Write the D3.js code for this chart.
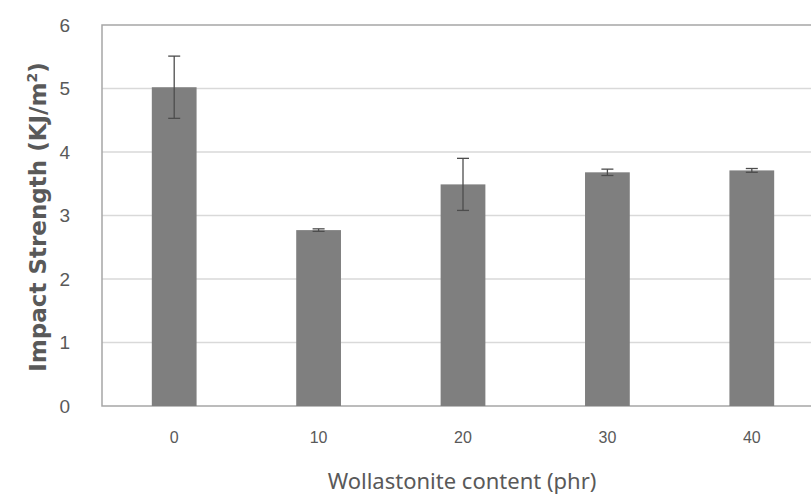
<!DOCTYPE html>
<html>
<head>
<meta charset="utf-8">
<script src="https://cdn.jsdelivr.net/npm/d3@7"></script>
<style>
  body { margin: 0; background: #fff; }
  svg { display: block; font-family: 'Noto Sans', 'DejaVu Sans', sans-serif; }
</style>
</head>
<body>
<script>
// data
const contents = ['0', '10', '20', '30', '40']
const strength = [5.02, 2.77, 3.49, 3.68, 3.71]
const errors = [0.49, 0.02, 0.41, 0.05, 0.03]
const yTicks = [0, 1, 2, 3, 4, 5, 6]

const w = 811
const h = 496
// plot area (right edge runs off the picture, as in the original)
const pLeft = 102, pRight = 824, pTop = 25, pBottom = 406

const svg = d3.select('body')
    .append('svg')
    .attr('width', w)
    .attr('height', h)

const x = d3.scaleBand()
    .domain(contents)
    .range([pLeft, pRight])
    .paddingInner(0.69)
    .paddingOuter(0.345)

const y = d3.scaleLinear()
    .domain([0, 6])
    .range([pBottom, pTop])

// gridlines
svg.append('g')
    .selectAll('line')
    .data(yTicks.filter(t => t > 0 && t < 6))
    .enter()
    .append('line')
    .attr('x1', pLeft)
    .attr('x2', pRight)
    .attr('y1', d => y(d))
    .attr('y2', d => y(d))
    .attr('stroke', '#d9d9d9')
    .attr('stroke-width', 1.5)

// plot border
svg.append('rect')
    .attr('x', pLeft)
    .attr('y', pTop)
    .attr('width', pRight - pLeft)
    .attr('height', pBottom - pTop)
    .attr('fill', 'none')
    .attr('stroke', '#a6a6a6')
    .attr('stroke-width', 1.5)

// bars
svg.append('g')
    .selectAll('rect')
    .data(contents)
    .enter()
    .append('rect')
    .attr('x', d => x(d))
    .attr('y', (d, i) => y(strength[i]))
    .attr('width', x.bandwidth())
    .attr('height', (d, i) => y(0) - y(strength[i]))
    .attr('fill', '#7f7f7f')

// error bars
const err = svg.append('g')
    .attr('stroke', '#4d4d4d')
    .attr('stroke-width', 1.3)
contents.forEach((c, i) => {
    const cx = x(c) + x.bandwidth() / 2
    const hi = y(strength[i] + errors[i])
    const lo = y(strength[i] - errors[i])
    err.append('line').attr('x1', cx).attr('x2', cx).attr('y1', hi).attr('y2', lo)
    err.append('line').attr('x1', cx - 6).attr('x2', cx + 6).attr('y1', hi).attr('y2', hi)
    err.append('line').attr('x1', cx - 6).attr('x2', cx + 6).attr('y1', lo).attr('y2', lo)
})

// y axis
const yAxis = svg.append('g')
    .attr('transform', `translate(${pLeft},0)`)
    .call(d3.axisLeft(y).tickValues(yTicks).tickFormat(d3.format('d')).tickSize(0).tickPadding(32))
yAxis.select('.domain').remove()
yAxis.selectAll('text')
    .attr('fill', '#595959')
    .style('font-size', '19px')

// x axis
const xAxis = svg.append('g')
    .attr('transform', `translate(0,${pBottom})`)
    .call(d3.axisBottom(x).tickSize(0).tickPadding(26))
xAxis.select('.domain').remove()
xAxis.selectAll('text')
    .attr('fill', '#595959')
    .style('font-size', '16px')

// axis titles
svg.append('text')
    .attr('x', 462)
    .attr('y', 489)
    .attr('text-anchor', 'middle')
    .attr('fill', '#595959')
    .style('font-size', '22px')
    .text('Wollastonite content (phr)')

const yTitle = svg.append('text')
    .attr('transform', 'translate(46,217) rotate(-90)')
    .attr('text-anchor', 'middle')
    .attr('fill', '#595959')
    .style('font-family', "'DejaVu Sans', sans-serif")
    .style('font-size', '23px')
    .style('font-weight', 'bold')
yTitle.append('tspan').text('Impact Strength (KJ/m')
yTitle.append('tspan').attr('dy', -9).style('font-size', '14px').text('2')
yTitle.append('tspan').attr('dy', 9).text(')')
</script>
</body>
</html>
